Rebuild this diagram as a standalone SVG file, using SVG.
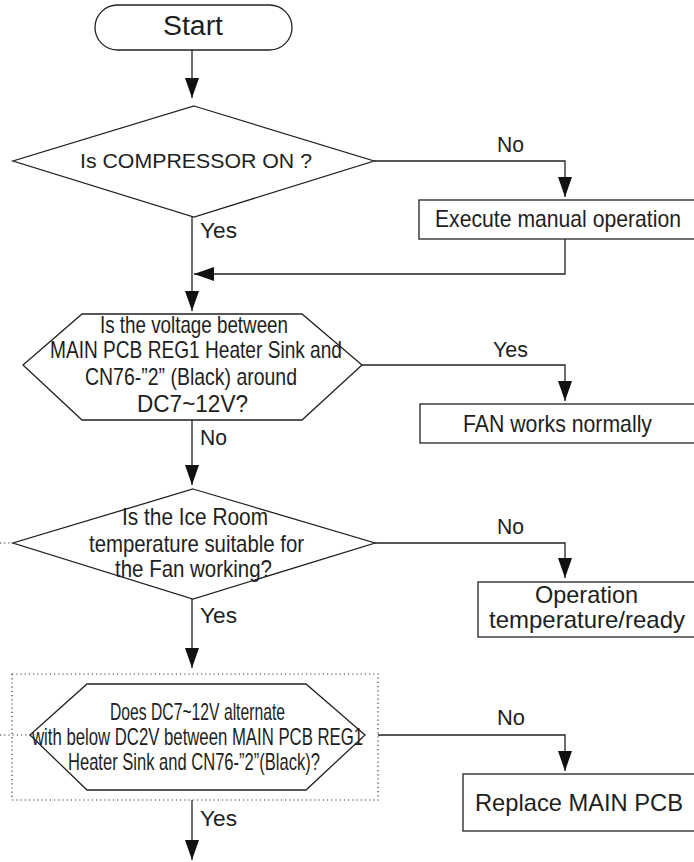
<svg xmlns="http://www.w3.org/2000/svg" width="694" height="862" viewBox="0 0 694 862">
<style>
.s{fill:#fff;stroke:#222;stroke-width:1.3}
.c{fill:none;stroke:#222;stroke-width:1.3}
.d{fill:none;stroke:#333;stroke-width:1.2;stroke-dasharray:1.2 3}
text{font-family:"Liberation Sans",Arial,Helvetica,sans-serif;fill:#1e1e1e}
.m{text-anchor:middle}
.t{font-size:24px}
.l{font-size:22px}
</style>
<defs>
<marker id="ah" markerUnits="userSpaceOnUse" markerWidth="22" markerHeight="16" viewBox="0 0 22 16" refX="21" refY="8" orient="auto">
<path d="M1,1 L21,8 L1,15 Z" fill="#111"/>
</marker>
</defs>
<rect width="694" height="862" fill="#fff"/>

<g id="connectors">
<path class="c" d="M192,50 V98" marker-end="url(#ah)"/>
<path class="c" d="M374,161 H565 V197" marker-end="url(#ah)"/>
<path class="c" d="M192,217 V311" marker-end="url(#ah)"/>
<path class="c" d="M565,239 V274 H194" marker-end="url(#ah)"/>
<path class="c" d="M362,365 H565 V401" marker-end="url(#ah)"/>
<path class="c" d="M192,420 V485" marker-end="url(#ah)"/>
<path class="c" d="M375,543 H565 V578" marker-end="url(#ah)"/>
<path class="d" d="M0,543 H13"/>
<path class="c" d="M192,599 V668" marker-end="url(#ah)"/>
<path class="d" d="M0,735 H30"/>
<path class="c" d="M378,735 H565 V771" marker-end="url(#ah)"/>
<path class="c" d="M192,800 V860" marker-end="url(#ah)"/>
<text class="l" x="497" y="152" textLength="27" lengthAdjust="spacingAndGlyphs">No</text>
<text class="l" x="200" y="238" textLength="37" lengthAdjust="spacingAndGlyphs">Yes</text>
<text class="l" x="493" y="357" textLength="35" lengthAdjust="spacingAndGlyphs">Yes</text>
<text class="l" x="200" y="445" textLength="27" lengthAdjust="spacingAndGlyphs">No</text>
<text class="l" x="497" y="534" textLength="27" lengthAdjust="spacingAndGlyphs">No</text>
<text class="l" x="200" y="623" textLength="37" lengthAdjust="spacingAndGlyphs">Yes</text>
<text class="l" x="497" y="725" textLength="28" lengthAdjust="spacingAndGlyphs">No</text>
<text class="l" x="200" y="826" textLength="37" lengthAdjust="spacingAndGlyphs">Yes</text>
</g>

<g id="start">
<rect class="s" x="95" y="5" width="197" height="45" rx="22.5"/>
<text class="m" x="193" y="35" font-size="27" textLength="60" lengthAdjust="spacingAndGlyphs">Start</text>
</g>

<g id="compressor">
<polygon class="s" points="194,106 374,161 194,217 13,161"/>
<text class="m" x="196" y="168" font-size="21" textLength="232" lengthAdjust="spacingAndGlyphs">Is COMPRESSOR ON ?</text>
</g>

<g id="manual">
<rect class="s" x="419" y="200" width="290" height="39"/>
<text class="t" x="435" y="227" textLength="246" lengthAdjust="spacingAndGlyphs">Execute manual operation</text>
</g>

<g id="voltage">
<polygon class="s" points="82,314 302,314 362,365 302,420 82,420 23,365"/>
<text class="m t" x="194" y="333" textLength="188" lengthAdjust="spacingAndGlyphs">Is the voltage between</text>
<text class="m t" x="196" y="358" textLength="292" lengthAdjust="spacingAndGlyphs">MAIN PCB REG1 Heater Sink and</text>
<text class="m t" x="191" y="385" textLength="212" lengthAdjust="spacingAndGlyphs">CN76-”2” (Black) around</text>
<text class="m t" x="192.5" y="412" textLength="111" lengthAdjust="spacingAndGlyphs">DC7~12V?</text>
</g>

<g id="fan-normal">
<rect class="s" x="420" y="404" width="290" height="39"/>
<text class="t" x="463" y="432" textLength="189" lengthAdjust="spacingAndGlyphs">FAN works normally</text>
</g>

<g id="ice-room">
<polygon class="s" points="193,489 375,543 193,599 13,543"/>
<text class="m t" x="195" y="525" textLength="146" lengthAdjust="spacingAndGlyphs">Is the Ice Room</text>
<text class="m t" x="196.5" y="552" textLength="215" lengthAdjust="spacingAndGlyphs">temperature suitable for</text>
<text class="m t" x="193.5" y="577" textLength="157" lengthAdjust="spacingAndGlyphs">the Fan working?</text>
</g>

<g id="operation-temp">
<rect class="s" x="478" y="582" width="232" height="55"/>
<text class="m t" x="586.5" y="603" textLength="103" lengthAdjust="spacingAndGlyphs">Operation</text>
<text class="m t" x="587" y="628" textLength="196" lengthAdjust="spacingAndGlyphs">temperature/ready</text>
</g>

<g id="alternate">
<rect class="d" x="12" y="674" width="366" height="126"/>
<polygon class="s" points="87,684 306,684 365,735 306,790 87,790 30,735"/>
<text class="m t" x="197.5" y="720" textLength="175" lengthAdjust="spacingAndGlyphs">Does DC7~12V alternate</text>
<text class="m t" x="197.5" y="745" textLength="331" lengthAdjust="spacingAndGlyphs">with below DC2V between MAIN PCB REG1</text>
<text class="m t" x="194" y="770" textLength="252" lengthAdjust="spacingAndGlyphs">Heater Sink and CN76-”2”(Black)?</text>
</g>

<g id="replace">
<rect class="s" x="463" y="774" width="250" height="57"/>
<text class="t" x="475" y="811" textLength="208" lengthAdjust="spacingAndGlyphs">Replace MAIN PCB</text>
</g>
</svg>
